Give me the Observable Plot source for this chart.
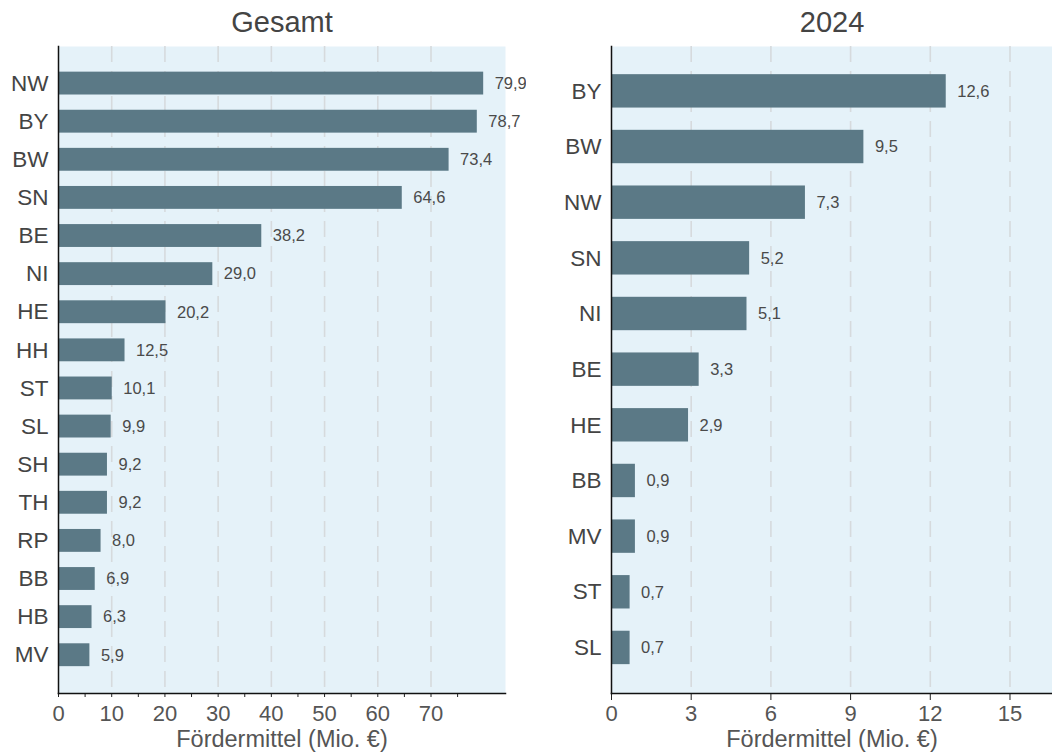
<!DOCTYPE html>
<html>
<head>
<meta charset="utf-8">
<script src="https://cdn.jsdelivr.net/npm/d3@7"></script>
<script src="https://cdn.jsdelivr.net/npm/@observablehq/plot@0.6"></script>
<style>
  html, body { margin: 0; padding: 0; background: #fff; }
  #wrap { display: flex; width: 1052px; height: 754px; }
  #wrap svg { display: block; }
</style>
</head>
<body>
<div id="wrap"></div>
<script>
// ---- Data ----
const statesTotal = ["NW","BY","BW","SN","BE","NI","HE","HH","ST","SL","SH","TH","RP","BB","HB","MV"];
const valuesTotal = [79.9,78.7,73.4,64.6,38.2,29.0,20.2,12.5,10.1,9.9,9.2,9.2,8.0,6.9,6.3,5.9];
const states2024 = ["BY","BW","NW","SN","NI","BE","HE","BB","MV","ST","SL"];
const values2024 = [12.6,9.5,7.3,5.2,5.1,3.3,2.9,0.9,0.9,0.7,0.7];
const ticksTotal = [0,10,20,30,40,50,60,70];
const minorTicksTotal = [5,15,25,35,45,55,65,75];
const ticks2024 = [0,3,6,9,12,15];
const titles = ["Gesamt", "2024"];
const xLabel = "Fördermittel (Mio. €)";

// ---- Style ----
const BG = "#e5f2f9";
const BAR = "#5b7986";
const GRID = "#d6dadd";
const TEXT = "#444444";
const FONT = "'Liberation Sans', Arial, Helvetica, sans-serif";
const fmt = d => d.value.toFixed(1).replace(".", ",");

const totalData = statesTotal.map((s, i) => ({state: s, value: valuesTotal[i]}));
const data2024 = states2024.map((s, i) => ({state: s, value: values2024[i]}));

function panel({data, domainY, xMax, ticks, minor, width, marginLeft, marginRight, insetTop, insetBottom, tickSize, tickPadding, title}) {
  const marks = [
    Plot.frame({fill: BG, stroke: null}),
    Plot.gridX(ticks.filter(t => t > 0), {stroke: GRID, strokeOpacity: 1, strokeWidth: 1.6, strokeDasharray: "16,9"}),
    Plot.barX(data, {x: "value", y: "state", fill: BAR}),
    Plot.text(data, {x: "value", y: "state", text: fmt, textAnchor: "start", dx: 11, fontSize: 16.5, fill: "#4a4a4a"}),
    Plot.axisY({tickSize: 0, tickPadding: 10, fontSize: 22.5, color: TEXT, label: null}),
    Plot.axisX(ticks, {tickSize, tickPadding, fontSize: 22, color: "#555", stroke: "#222", label: null, tickFormat: d => String(d)}),
    Plot.frame({anchor: "left", stroke: "#111", strokeWidth: 1.5}),
    Plot.frame({anchor: "bottom", stroke: "#111", strokeWidth: 1.5}),
    Plot.text([title], {frameAnchor: "top", lineAnchor: "middle", dy: -24, fontSize: 29, fill: TEXT}),
    Plot.text([xLabel], {frameAnchor: "bottom", lineAnchor: "middle", dy: 46, fontSize: 23.5, fill: "#555"})
  ];
  if (minor) marks.splice(6, 0, Plot.axisX(minor, {tickSize, text: null, stroke: "#222", label: null}));
  return Plot.plot({
    width, height: 754,
    marginTop: 46, marginBottom: 61, marginLeft, marginRight,
    style: {fontFamily: FONT, background: "transparent", overflow: "hidden"},
    x: {domain: [0, xMax]},
    y: {domain: domainY, padding: 0.4, round: false, insetTop, insetBottom},
    marks
  });
}

const left = panel({
  data: totalData, domainY: statesTotal, xMax: 84, ticks: ticksTotal, minor: minorTicksTotal,
  width: 526, marginLeft: 58, marginRight: 21, insetTop: 10.4, insetBottom: 11.6,
  tickSize: 4, tickPadding: 8, title: titles[0]
});
const right = panel({
  data: data2024, domainY: states2024, xMax: 16.6, ticks: ticks2024, minor: null,
  width: 526, marginLeft: 85, marginRight: 0, insetTop: 5.9, insetBottom: 6.6,
  tickSize: 7, tickPadding: 5, title: titles[1]
});
document.getElementById("wrap").append(left, right);
</script>
</body>
</html>
